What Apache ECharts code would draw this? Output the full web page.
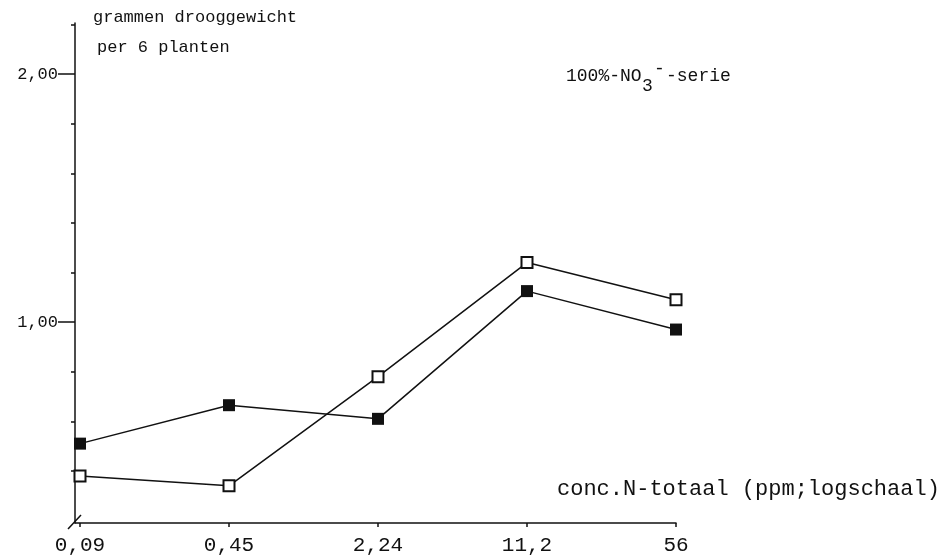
<!DOCTYPE html>
<html>
<head>
<meta charset="utf-8">
<script src="https://cdn.jsdelivr.net/npm/echarts@6/dist/echarts.min.js"></script>
<style>
  html, body { margin: 0; padding: 0; background: #fff; }
  #chart { width: 944px; height: 559px; }
</style>
</head>
<body>
<div id="chart"></div>
<script>
// Nitrogen concentrations (ppm), equally spaced on a log scale (factor 5)
const concentrations = [0.09, 0.45, 2.24, 11.2, 56];
const concLabels = ['0,09', '0,45', '2,24', '11,2', '56'];
// Dry weight (grams per 6 plants)
const filledSeries = [0.51, 0.665, 0.61, 1.125, 0.97];
const openSeries = [0.38, 0.34, 0.78, 1.24, 1.09];
// Y-axis labelled ticks and small intermediate ticks
const yLabelValues = [1, 2];
const yMinorTicks = [0.4, 0.6, 0.8, 1.2, 1.4, 1.6, 1.8, 2.2];

const INK = '#111';
const FONT = '"Liberation Mono", "DejaVu Sans Mono", monospace';

// x position = step index along the log axis
const steps = concentrations.map((c, i) => i);
const toPairs = vals => vals.map((v, i) => [steps[i], v]);
const fmtComma = (v, d) => v.toFixed(d).replace('.', ',');

const chart = echarts.init(document.getElementById('chart'), null, { renderer: 'canvas' });

chart.setOption({
  backgroundColor: '#fff',
  animation: false,
  grid: { left: 75, right: 268, top: 23, bottom: 36, containLabel: false },
  xAxis: {
    type: 'value',
    min: -0.0336,
    max: 4,
    axisLine: { show: true, onZero: false, lineStyle: { color: INK, width: 1.5 } },
    axisTick: { show: true, customValues: steps, length: 4, inside: false, lineStyle: { color: INK, width: 1.5 } },
    axisLabel: {
      customValues: steps,
      margin: 12,
      color: INK,
      fontFamily: FONT,
      fontSize: 21,
      formatter: v => concLabels[Math.round(v)]
    },
    splitLine: { show: false }
  },
  yAxis: [
    {
      type: 'value',
      min: 0.19,
      max: 2.206,
      axisLine: { show: true, onZero: false, lineStyle: { color: INK, width: 1.5 } },
      axisTick: { show: true, customValues: yLabelValues, length: 17, lineStyle: { color: INK, width: 1.5 } },
      axisLabel: {
        customValues: yLabelValues,
        margin: 17,
        color: INK,
        fontFamily: FONT,
        fontSize: 17,
        formatter: v => fmtComma(v, 2)
      },
      splitLine: { show: false }
    },
    {
      type: 'value',
      min: 0.19,
      max: 2.206,
      position: 'left',
      axisLine: { show: false, onZero: false },
      axisTick: { show: true, customValues: yMinorTicks, length: 4, lineStyle: { color: INK, width: 1.5 } },
      axisLabel: { show: false },
      splitLine: { show: false }
    }
  ],
  series: [
    {
      type: 'line',
      data: toPairs(filledSeries),
      symbol: 'rect',
      symbolSize: 12,
      clip: false,
      lineStyle: { color: INK, width: 1.5 },
      itemStyle: { color: INK, borderColor: INK, borderWidth: 0 }
    },
    {
      type: 'line',
      data: toPairs(openSeries),
      symbol: 'rect',
      symbolSize: 11,
      clip: false,
      lineStyle: { color: INK, width: 1.5 },
      itemStyle: { color: '#fff', borderColor: INK, borderWidth: 2 }
    }
  ],
  graphic: [
    // break mark at the origin
    { type: 'line', shape: { x1: 68, y1: 529, x2: 81, y2: 515 }, style: { stroke: INK, lineWidth: 1.5 } },
    { type: 'text', left: 93, top: 9, style: { text: 'grammen drooggewicht', font: '17px ' + FONT, fill: INK } },
    { type: 'text', left: 97, top: 39, style: { text: 'per 6 planten', font: '17px ' + FONT, fill: INK } },
    {
      type: 'group', left: 566, top: 60,
      children: [
        { type: 'text', x: 0, y: 0, style: { text: '100%-NO', font: '18px ' + FONT, fill: INK } },
        { type: 'text', x: 76, y: 10, style: { text: '3', font: '18px ' + FONT, fill: INK } },
        { type: 'text', x: 88, y: -7, style: { text: '-', font: '18px ' + FONT, fill: INK } },
        { type: 'text', x: 100, y: 0, style: { text: '-serie', font: '18px ' + FONT, fill: INK } }
      ]
    },
    { type: 'text', left: 557, top: 478, style: { text: 'conc.N-totaal (ppm;logschaal)', font: '22px ' + FONT, fill: INK } }
  ]
});
</script>
</body>
</html>
